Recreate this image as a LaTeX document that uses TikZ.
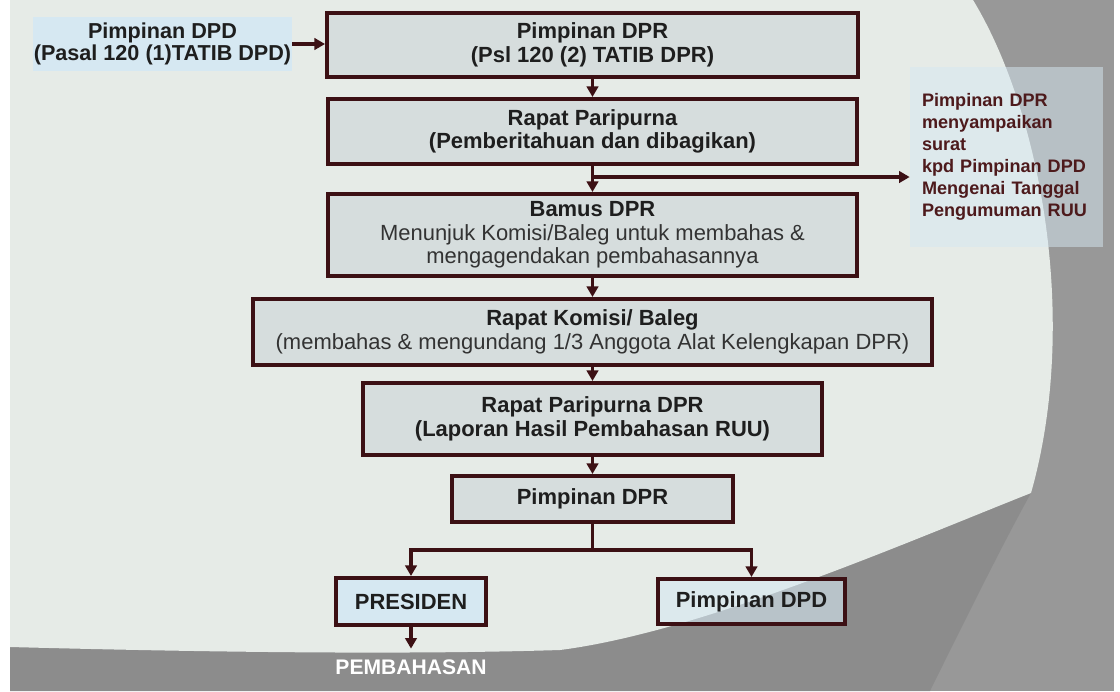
\documentclass[tikz,border=0pt]{standalone}
\usepackage{fontspec}
\setmainfont{Liberation Sans}
\usetikzlibrary{arrows.meta,positioning}

\definecolor{paleBg}{HTML}{E6EBE7}
\definecolor{greyDark}{HTML}{8C8C8C}
\definecolor{greyLight}{HTML}{989898}
\definecolor{boxFill}{HTML}{D6DDDD}
\definecolor{blueFill}{HTML}{D6E8F2}
\definecolor{maroonLine}{HTML}{3C1014}
\definecolor{noteText}{HTML}{4D1A1C}
\definecolor{darkText}{HTML}{1E1E1E}
\definecolor{softText}{HTML}{333333}

\begin{document}
\begin{tikzpicture}[x=0.02cm,y=-0.02cm,
    box/.style={draw=maroonLine, line width=2.3pt, fill=boxFill, align=center, inner sep=0pt,
      font=\fontsize{12.5}{13.4}\selectfont\bfseries, text=darkText},
    bluebox/.style={box, fill=blueFill},
    arr/.style={maroonLine, line width=1.9pt, -{Triangle[length=6pt,width=6.5pt]}},
    wire/.style={maroonLine, line width=1.9pt}]
  \useasboundingbox (0,0) rectangle (1120,691);

  % backdrop
  \fill[white] (0,0) rectangle (1120,691);
  \fill[greyLight] (10,0) rectangle (1114,691);
  \fill[greyDark] (10,691) -- (930,691) .. controls (975,600) and (1005,540) .. (1031,493)
    -- (1020,300) -- (10,300) -- cycle;
  \fill[paleBg] (10,0) -- (973,0) .. controls (1040,110) and (1080,320) .. (1031,493)
    .. controls (900,545) and (700,632) .. (560,650)
    .. controls (400,655) and (200,652) .. (10,647) -- cycle;

  % left and side notes
  \node[fill=blueFill, minimum width=5.18cm, minimum height=1.08cm, align=center, inner sep=0pt,
    font=\fontsize{12.3}{12.6}\selectfont\bfseries, text=darkText] (ln) at (162.5,44)
    {Pimpinan DPD\\(Pasal 120 (1)TATIB DPD)};
  \node[fill=blueFill, fill opacity=0.5, text opacity=1, minimum height=3.6cm, text width=3.38cm,
    inner xsep=0.24cm, align=left, font=\fontsize{10.3}{12.5}\selectfont\bfseries, text=noteText]
    (sn) at (1006.5,157)
    {Pimpinan DPR\\menyampaikan\\surat\\kpd Pimpinan DPD\\Mengenai Tanggal\\Pengumuman RUU};

  % main column
  \node[box, minimum width=10.62cm, minimum height=1.28cm] (b1) at (592.5,45)
    {Pimpinan DPR\\(Psl 120 (2) TATIB DPR)};
  \node[box, minimum width=10.58cm, minimum height=1.30cm] (b2) at (592.5,131.5)
    {Rapat Paripurna\\(Pemberitahuan dan dibagikan)};
  \node[box, minimum width=10.58cm, minimum height=1.64cm] (b3) at (592.5,235)
    {Bamus DPR\\{\mdseries\color{softText}Menunjuk Komisi/Baleg untuk membahas \&}\\
     {\mdseries\color{softText}mengagendakan pembahasannya}};
  \node[box, minimum width=13.58cm, minimum height=1.32cm] (b4) at (592.5,332)
    {Rapat Komisi/ Baleg\\{\mdseries\color{softText}(membahas \& mengundang 1/3 Anggota Alat Kelengkapan DPR)}};
  \node[box, minimum width=9.18cm, minimum height=1.44cm] (b5) at (592.5,419)
    {Rapat Paripurna DPR\\(Laporan Hasil Pembahasan RUU)};
  \node[box, minimum width=5.62cm, minimum height=0.92cm] (b6) at (592.5,499) {Pimpinan DPR};
  \node[bluebox, minimum width=3.00cm, minimum height=0.94cm] (pres) at (411,601.5) {PRESIDEN};
  \node[box, fill=blueFill, fill opacity=0.6, text opacity=1, draw opacity=1,
    minimum width=3.74cm, minimum height=0.90cm] (dpd) at (751.5,601.5) {Pimpinan DPD};
  \node[font=\fontsize{12}{14}\selectfont\bfseries, text=white, inner xsep=0pt, inner ysep=6pt]
    (pb) at (411,667) {PEMBAHASAN};

  \coordinate (j1) at (592.5,177);
  \coordinate (j2) at (592.5,550);

  % connectors
  \draw[arr] (ln) -- (ln -| b1.west);
  \draw[arr] (b1) -- (b2);
  \draw[arr] (b2) -- (b3);
  \draw[arr] (j1) -- (j1 -| sn.west);
  \draw[arr] (b3) -- (b4);
  \draw[arr] (b4) -- (b5);
  \draw[arr] (b5) -- (b6);
  \draw[wire] (b6) -- (j2);
  \draw[arr] (j2) -| (pres);
  \draw[arr] (j2) -| (dpd);
  \draw[arr] (pres) -- (pb);
\end{tikzpicture}
\end{document}
